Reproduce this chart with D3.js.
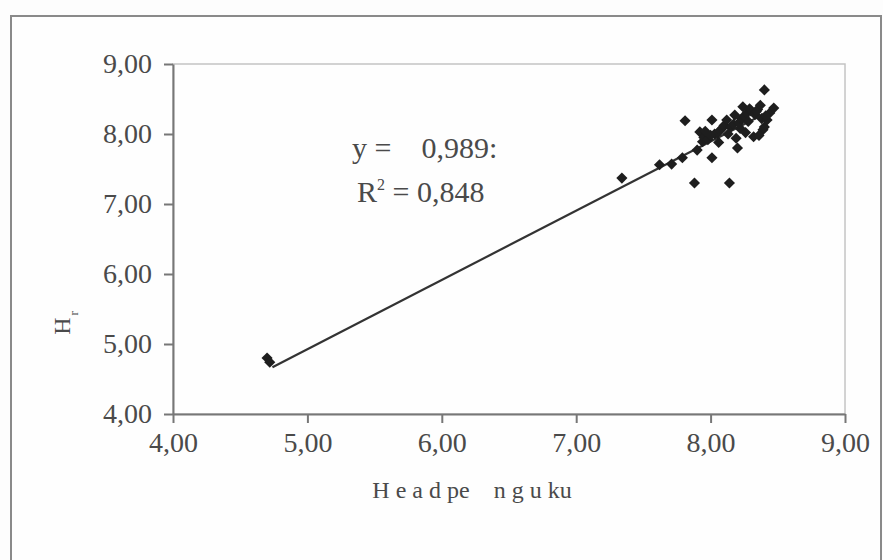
<!DOCTYPE html>
<html>
<head>
<meta charset="utf-8">
<script src="https://cdn.jsdelivr.net/npm/d3@7"></script>
<style>
  body { margin: 0; background: #fdfdfd; }
  svg text { font-family: "Liberation Serif", "Times New Roman", serif; fill: #4a4a4a; }
</style>
</head>
<body>
<svg id="chart" width="883" height="560"></svg>
<script>
// data
var xVals = [4.70, 4.72, 7.34, 7.62, 7.71, 7.79, 7.81, 7.88, 7.90, 7.92, 7.94, 7.95, 7.98, 8.01,
             8.01, 8.03, 8.05, 8.07, 8.09, 8.10, 8.12, 8.14, 8.15, 8.17, 8.19, 8.20, 8.21, 8.23,
             8.24, 8.25, 8.27, 8.28, 8.30, 8.32, 8.33, 8.35, 8.37, 8.38, 8.39, 8.40, 8.40, 8.42,
             8.44, 8.47, 8.00, 8.06, 8.13, 8.22, 8.29, 8.36, 7.96, 8.18, 8.26, 8.34, 8.41];
var yVals = [4.80, 4.74, 7.37, 7.56, 7.57, 7.66, 8.19, 7.30, 7.77, 8.03, 7.89, 7.95, 7.92, 8.20,
             7.66, 8.00, 8.01, 8.05, 8.09, 8.12, 8.20, 7.30, 8.10, 8.14, 7.94, 7.80, 8.16, 8.22,
             8.39, 8.25, 8.30, 8.18, 8.33, 7.96, 8.28, 8.35, 8.41, 8.22, 8.06, 8.63, 8.10, 8.20,
             8.30, 8.37, 7.98, 7.88, 8.00, 8.08, 8.36, 7.98, 8.04, 8.27, 8.02, 8.32, 8.26];
var xTicks = [4, 5, 6, 7, 8, 9];
var yTicks = [4, 5, 6, 7, 8, 9];
var trendSlope = 0.9892;
var trendIntercept = -0.02;
var trendRange = [4.74, 8.45];
var eqLabel = "y =    0,989:";
var r2Label = "0,848";
var xTitle = "H e a d pe    n g u ku";
var yTitle = "H";

var svg = d3.select("#chart");
var loc = d3.formatLocale({decimal: ",", thousands: ".", grouping: [3], currency: ["", ""]});
var fmt = loc.format(".2f");

// outer frame
svg.append("rect")
    .attr("x", 11).attr("y", 16)
    .attr("width", 870).attr("height", 560)
    .attr("fill", "#fefefe")
    .attr("stroke", "#8a8a8a")
    .attr("stroke-width", 2);

var plotL = 173, plotT = 64, plotR = 845, plotB = 414;

var x = d3.scaleLinear().domain([4, 9]).range([plotL, plotR]);
var y = d3.scaleLinear().domain([4, 9]).range([plotB, plotT]);

// plot area border
svg.append("rect")
    .attr("x", plotL).attr("y", plotT)
    .attr("width", plotR - plotL).attr("height", plotB - plotT)
    .attr("fill", "none")
    .attr("stroke", "#c4c4c4")
    .attr("stroke-width", 1.5);

var axisX = d3.axisBottom(x).tickValues(xTicks).tickFormat(fmt).tickSizeInner(9).tickSizeOuter(0).tickPadding(9);
var axisY = d3.axisLeft(y).tickValues(yTicks).tickFormat(fmt).tickSizeInner(9).tickSizeOuter(0).tickPadding(12);

var gx = svg.append("g")
    .attr("transform", "translate(0," + plotB + ")")
    .call(axisX);
var gy = svg.append("g")
    .attr("transform", "translate(" + plotL + ",0)")
    .call(axisY);

[gx, gy].forEach(function(g){
    g.selectAll("path, line").attr("stroke", "#777").attr("stroke-width", 2);
    g.selectAll("text")
        .style("font-family", "Liberation Serif, serif")
        .style("font-size", "28px")
        .attr("fill", "#4a4a4a");
});

// trend line
svg.append("line")
    .attr("x1", x(trendRange[0]))
    .attr("y1", y(trendSlope * trendRange[0] + trendIntercept))
    .attr("x2", x(trendRange[1]))
    .attr("y2", y(trendSlope * trendRange[1] + trendIntercept))
    .attr("stroke", "#333")
    .attr("stroke-width", 2.2);

// points
var pts = xVals.map(function(d, i){ return [d, yVals[i]]; });
svg.selectAll("path.pt")
    .data(pts)
    .enter()
    .append("path")
    .attr("class", "pt")
    .attr("d", d3.symbol(d3.symbolSquare).size(62))
    .attr("transform", function(d){
        return "translate(" + x(d[0]) + "," + y(d[1]) + ") rotate(45)";
    })
    .attr("fill", "#1e1e1e");

// equation text
svg.append("text")
    .attr("x", 352).attr("y", 158)
    .style("font-size", "30px")
    .attr("xml:space", "preserve")
    .text(eqLabel);
var r2 = svg.append("text")
    .attr("x", 357).attr("y", 202)
    .style("font-size", "30px");
r2.append("tspan").text("R");
r2.append("tspan").attr("dy", -12).style("font-size", "16px").text("2");
r2.append("tspan").attr("dy", 12).text(" = " + r2Label);

// axis titles
svg.append("text")
    .attr("x", 472).attr("y", 498)
    .attr("text-anchor", "middle")
    .attr("xml:space", "preserve")
    .style("font-size", "24px")
    .text(xTitle);

var yt = svg.append("text")
    .attr("transform", "translate(70,323) rotate(-90)")
    .attr("text-anchor", "middle")
    .style("font-size", "24px");
yt.append("tspan").text(yTitle);
yt.append("tspan").attr("dy", 8).attr("dx", 2).style("font-size", "13px").text("r");
</script>
</body>
</html>
